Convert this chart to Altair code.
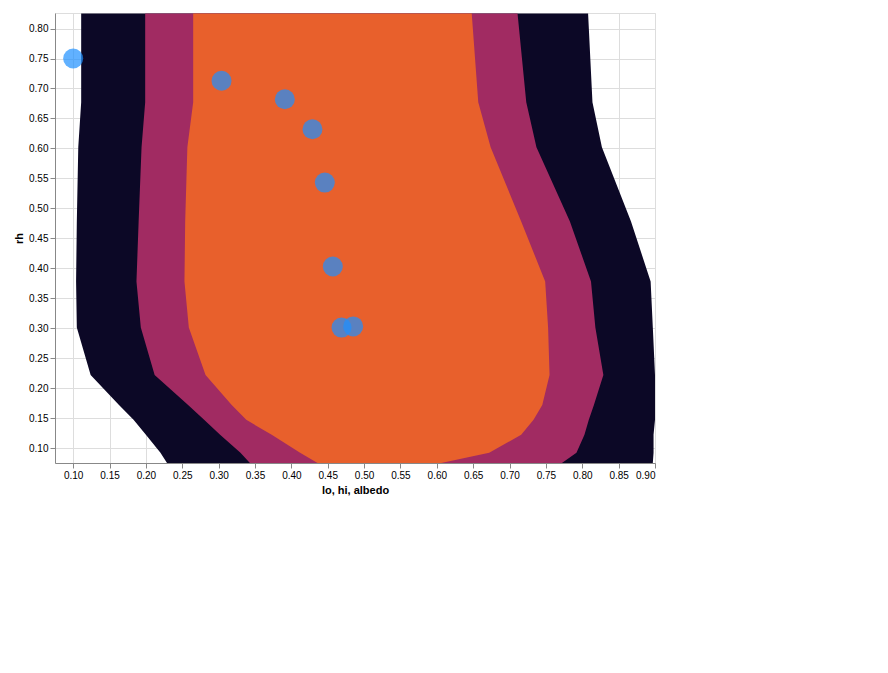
import altair as alt
import pandas as pd

ITER_ALBEDO = [0.100, 0.304, 0.391, 0.429, 0.446, 0.457, 0.469, 0.485]
ITER_RH = [0.750, 0.713, 0.682, 0.632, 0.543, 0.403, 0.301, 0.303]
TRUTH_ALBEDO = [0.5]
TRUTH_RH = [0.3]

OUTER_RH = [0.825, 0.677, 0.602, 0.478, 0.378, 0.301, 0.222, 0.172, 0.147, 0.122, 0.092, 0.075]
OUTER_LO = {
    6: [0.265, 0.265, 0.257, 0.254, 0.253, 0.259, 0.282, 0.318, 0.338, 0.373, 0.412, 0.436],
    10: [0.199, 0.199, 0.194, 0.190, 0.187, 0.193, 0.212, 0.258, 0.280, 0.302, 0.330, 0.343],
    17: [0.111, 0.111, 0.107, 0.105, 0.104, 0.105, 0.124, 0.163, 0.183, 0.200, 0.220, 0.229],
}
OUTER_HI = {
    6: [0.648, 0.657, 0.674, 0.716, 0.749, 0.753, 0.755, 0.745, 0.733, 0.716, 0.672, 0.606],
    10: [0.711, 0.723, 0.737, 0.783, 0.812, 0.818, 0.829, 0.816, 0.809, 0.803, 0.792, 0.772],
    17: [0.808, 0.814, 0.827, 0.867, 0.894, 0.897, 0.900, 0.900, 0.900, 0.898, 0.898, 0.897],
}
rows = []
for k in OUTER_LO:
    for rh, lo, hi in zip(OUTER_RH, OUTER_LO[k], OUTER_HI[k]):
        rows.append({"level": k, "rh": rh, "lo": lo, "hi": hi})
bands = pd.DataFrame(rows)
iters = pd.DataFrame({"albedo": ITER_ALBEDO, "rh": ITER_RH})

xs = alt.Scale(domain=[0.075, 0.9], nice=False, zero=False)
ys = alt.Scale(domain=[0.075, 0.826], nice=False, zero=False)
fill_scale = alt.Scale(scheme="inferno", domain=[-0.75, 18.25], reverse=True)


def band_layer(k):
    return alt.Chart(bands).transform_filter(alt.datum.level == k).mark_area(
        orient="horizontal"
    ).encode(
        y=alt.Y("rh:Q", scale=ys),
        x=alt.X("lo:Q", scale=xs),
        x2="hi:Q",
        fill=alt.Fill("level:Q", scale=fill_scale, legend=None),
    )


pts = alt.Chart(iters).mark_point(filled=True, size=400, color="#1e90ff").encode(
    x=alt.X("albedo:Q", scale=xs), y=alt.Y("rh:Q", scale=ys))

chart = alt.layer(band_layer(17), band_layer(10), band_layer(6), pts).properties(
    width=600, height=450)

chart.save("out.html", embed_options={"renderer": "svg", "actions": False})
